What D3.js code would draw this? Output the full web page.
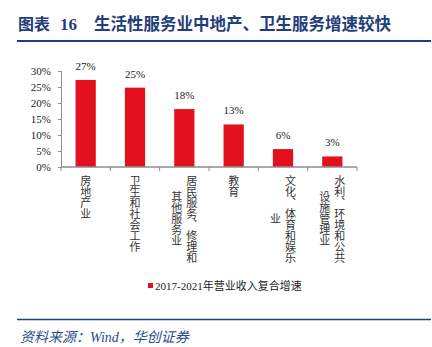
<!DOCTYPE html>
<html><head><meta charset="utf-8">
<script src="https://cdn.jsdelivr.net/npm/d3@7"></script>
<style>
html,body{margin:0;padding:0;background:#fff;}
svg{display:block;}
</style></head>
<body>
<svg id="c" width="432" height="347"></svg>
<script>
const categories = ["房地产业","卫生和社会工作","居民服务、修理和其他服务业","教育","文化、体育和娱乐业","水利、环境和公共设施管理业"];
const values = [0.272, 0.248, 0.181, 0.133, 0.056, 0.033];
const yTicks = [0, 0.05, 0.10, 0.15, 0.20, 0.25, 0.30];
const seriesName = "2017-2021年营业收入复合增速";
const titleLabel = "图表";
const titleNum = "16";
const titleText = "生活性服务业中地产、卫生服务增速较快";
const sourceText = "资料来源：Wind，华创证券";

const svg = d3.select("#c");
const navy = "#1F3E7A";
const red = "#E3111E";
const axisColor = "#8C8C8C";
const serif = "'Liberation Serif','Times New Roman','Noto Sans CJK SC',serif";
const cjk = "'Noto Sans CJK SC',sans-serif";

// Title
svg.append("text").attr("x", 18).attr("y", 30)
  .attr("font-family", cjk).attr("font-weight", "bold")
  .attr("font-size", 16).attr("fill", navy)
  .text(titleLabel);
svg.append("text").attr("x", 60).attr("y", 30)
  .attr("font-family", serif).attr("font-weight", "bold")
  .attr("font-size", 17).attr("fill", navy)
  .text(titleNum);
svg.append("text").attr("x", 94).attr("y", 30)
  .attr("font-family", cjk).attr("font-weight", "bold")
  .attr("font-size", 16.5).attr("fill", navy)
  .text(titleText);
svg.append("line").attr("x1", 17).attr("x2", 431).attr("y1", 41).attr("y2", 41)
  .attr("stroke", navy).attr("stroke-width", 2);

// Scales
const x = d3.scaleBand().domain(categories).range([61, 357]).paddingInner(0.59).paddingOuter(0.295);
const y = d3.scaleLinear().domain([0, 0.30]).range([167, 71]);

// Y axis
const yAxis = svg.append("g").attr("transform", "translate(61,0)")
  .call(d3.axisLeft(y).tickValues(yTicks).tickFormat(d3.format(".0%")).tickSize(3).tickPadding(7));
yAxis.select(".domain").attr("stroke", axisColor);
yAxis.selectAll(".tick line").attr("stroke", axisColor);
yAxis.selectAll(".tick text").attr("font-family", serif).attr("font-size", 11).attr("fill", "#222");

// Bars
svg.append("g").selectAll("rect").data(values).join("rect")
  .attr("x", (d, i) => x(categories[i]))
  .attr("width", x.bandwidth())
  .attr("y", d => y(d))
  .attr("height", d => y(0) - y(d))
  .attr("fill", red);

// Value labels
svg.append("g").selectAll("text").data(values).join("text")
  .attr("x", (d, i) => x(categories[i]) + x.bandwidth() / 2)
  .attr("y", d => y(d) - 10)
  .attr("text-anchor", "middle")
  .attr("font-family", serif).attr("font-size", 11).attr("fill", "#222")
  .text(d => d3.format(".0%")(d));

// X axis
const step = x.step();
const x0 = x.range()[0];
svg.append("line").attr("x1", 61).attr("x2", 357).attr("y1", y(0)).attr("y2", y(0))
  .attr("stroke", axisColor).attr("stroke-width", 1.5);
svg.append("g").selectAll("line").data(d3.range(categories.length + 1)).join("line")
  .attr("x1", i => x0 + i * step).attr("x2", i => x0 + i * step)
  .attr("y1", y(0)).attr("y2", y(0) + 4)
  .attr("stroke", axisColor);

// Category labels: vertical columns of up to 8 chars, right to left
const fs = 11, colGap = 15, topY = 175;
categories.forEach((c, i) => {
  const chars = Array.from(c);
  const cols = [];
  for (let k = 0; k < chars.length; k += 8) cols.push(chars.slice(k, k + 8).join(""));
  const cx = x(c) + x.bandwidth() / 2;
  const n = cols.length;
  const midY = topY + Math.min(chars.length, 8) * fs / 2;
  cols.forEach((col, j) => {
    svg.append("text")
      .attr("x", cx + ((n - 1) / 2 - j) * colGap)
      .attr("y", midY)
      .attr("text-anchor", "middle")
      .style("writing-mode", "vertical-rl")
      .attr("font-family", cjk).attr("font-size", fs).attr("fill", "#333")
      .text(col);
  });
});

// Legend
svg.append("rect").attr("x", 148).attr("y", 283).attr("width", 5).attr("height", 5).attr("fill", red);
svg.append("text").attr("x", 155).attr("y", 289.5)
  .attr("font-family", serif).attr("font-size", 11).attr("fill", "#222")
  .text(seriesName);

// Bottom line & source
svg.append("line").attr("x1", 17).attr("x2", 431).attr("y1", 319.5).attr("y2", 319.5)
  .attr("stroke", navy).attr("stroke-width", 1.5);
svg.append("text").attr("x", 20).attr("y", 341.5)
  .attr("font-family", "'Liberation Serif','Noto Sans CJK SC',serif").attr("font-style", "italic")
  .attr("font-size", 14).attr("fill", "#2B4A8C")
  .text(sourceText);
</script>
</body></html>
